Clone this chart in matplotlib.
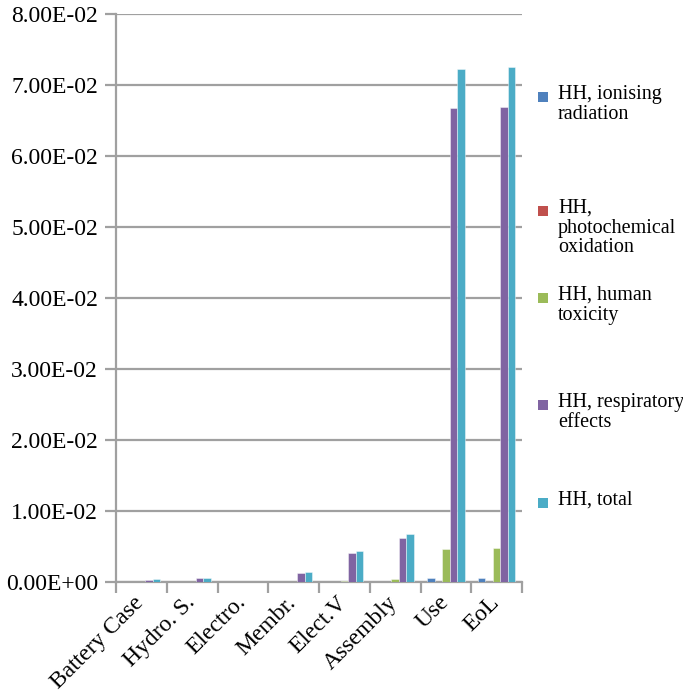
import matplotlib
matplotlib.use("Agg")
import matplotlib.pyplot as plt
from matplotlib.patches import Rectangle
from matplotlib.transforms import ScaledTranslation
import numpy as np

plt.rcParams['font.family'] = ['Liberation Serif', 'DejaVu Serif']

categories = ["Battery Case", "Hydro. S.", "Electro.", "Membr.", "Elect.V",
              "Assembly", "Use", "EoL"]

ionising_radiation = [0.0, 0.0, 0.0, 0.0, 0.0, 0.0, 0.0005, 0.0005]
photochemical_oxidation = [0.0, 0.0, 0.0, 0.0, 0.0, 0.0, 0.0, 0.0]
human_toxicity = [0.0, 0.0, 0.0, 0.0, 0.0002, 0.0004, 0.0046, 0.0048]
respiratory_effects = [0.0003, 0.0005, 0.0, 0.0013, 0.0041, 0.0062, 0.0668, 0.0669]
total = [0.0004, 0.0005, 0.0, 0.0014, 0.0044, 0.0068, 0.0722, 0.0725]

series_labels = ["HH, ionising\nradiation",
                 "HH,\nphotochemical\noxidation",
                 "HH, human\ntoxicity",
                 "HH, respiratory\neffects",
                 "HH, total"]
series_values = [ionising_radiation, photochemical_oxidation, human_toxicity,
                 respiratory_effects, total]
colors = ["#4F81BD", "#C0504D", "#9BBB59", "#8064A2", "#4BACC6"]

yticks = [0.0, 0.01, 0.02, 0.03, 0.04, 0.05, 0.06, 0.07, 0.08]
ytick_labels = ["0.00E+00", "1.00E-02", "2.00E-02", "3.00E-02", "4.00E-02",
                "5.00E-02", "6.00E-02", "7.00E-02", "8.00E-02"]

fig = plt.figure(figsize=(6.83, 7.0), dpi=100)
ax = fig.add_axes([116 / 683, 1 - 582 / 700, (522 - 116) / 683, (582 - 14) / 700])

grey = "#A0A0A0"
n = len(categories)
x = np.arange(n)
w = 0.148
for i, (vals, col) in enumerate(zip(series_values, colors)):
    ax.bar(x + (i - 2) * w, vals, width=w, color=col, edgecolor=(1, 1, 1, 0.5),
           linewidth=0.6, zorder=3)

ax.set_xlim(-0.5, n - 0.5)
ax.set_ylim(0, 0.08)
ax.set_yticks(yticks)
ax.set_yticklabels(ytick_labels, fontsize=17)
ax.yaxis.grid(True, color=grey, linewidth=1.6, zorder=0)
ax.set_axisbelow(True)

ax.set_xticks(x)
ax.set_xticklabels(categories, fontsize=17, rotation=45, ha='right',
                   rotation_mode='anchor')
ax.tick_params(axis='x', length=0, pad=5)
shift = ScaledTranslation(-8 / 100, -3 / 100, fig.dpi_scale_trans)
for lbl in ax.get_xticklabels():
    lbl.set_transform(lbl.get_transform() + shift)
ax.set_xticks(np.arange(n + 1) - 0.5, minor=True)
ax.tick_params(axis='x', which='minor', length=8, width=1.6, color=grey,
               direction='out')
ax.tick_params(axis='y', length=8, width=1.6, color=grey, direction='out', pad=5)

for side in ['top', 'right']:
    ax.spines[side].set_visible(False)
for side in ['left', 'bottom']:
    ax.spines[side].set_color(grey)
    ax.spines[side].set_linewidth(1.6)

# Legend drawn at figure level: square markers beside multi-line labels
marker_y = [97, 211, 298, 405, 503]
for lab, col, my in zip(series_labels, colors, marker_y):
    fig.patches.append(Rectangle((538 / 683, 1 - (my + 5) / 700), 10 / 683, 10 / 700,
                                 transform=fig.transFigure, facecolor=col,
                                 edgecolor='none'))
    fig.text(558 / 683, 1 - (my - 12) / 700, lab, fontsize=14.5, va='top', ha='left',
             linespacing=1.05)

fig.savefig("out.png", dpi=100)
